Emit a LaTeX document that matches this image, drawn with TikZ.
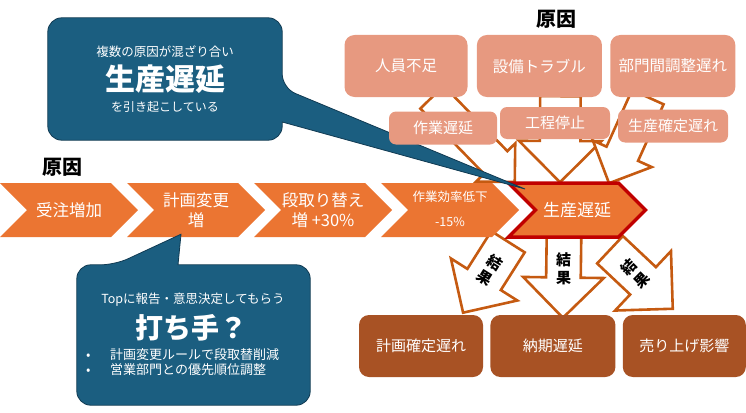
\documentclass[tikz,border=0pt]{standalone}
\usepackage{fontspec}
\setmainfont{Noto Sans CJK JP}
\usetikzlibrary{shapes.symbols,shapes.arrows,positioning,calc}

\definecolor{chevorange}{RGB}{235,117,50}
\definecolor{causepink}{RGB}{231,153,128}
\definecolor{arroworange}{RGB}{197,90,17}
\definecolor{resultbrown}{RGB}{168,82,36}
\definecolor{bubbleblue}{RGB}{27,94,128}
\definecolor{bubbleedge}{RGB}{16,58,82}
\definecolor{delayred}{RGB}{192,0,0}

\pgfdeclarelayer{background}
\pgfsetlayers{background,main}

% hollow block arrow from #1 to #2, shaft width #3, head extend #4
\newcommand{\fatlink}[4]{%
  \path let \p1=($(#2)-(#1)$), \n1={atan2(\y1,\x1)}, \n2={veclen(\x1,\y1)} in
    node[fatarrow, anchor=tail, rotate=\n1, minimum height=\n2, single arrow head extend=#4] at (#1) {\rule{0pt}{#3}};
}

\begin{document}
\begin{tikzpicture}[x=1pt, y=-1pt,
  chev/.style={signal, signal to=east, signal from=west, fill=chevorange, text=white, minimum width=138pt, minimum height=54pt, inner sep=0pt, align=center, font=\fontsize{16.5}{20}\selectfont},
  causebox/.style={rounded corners=10pt, fill=causepink, text=white, minimum width=123pt, minimum height=62pt, inner sep=0pt, font=\fontsize{15.5}{18}\selectfont},
  subbox/.style={rounded corners=7pt, fill=causepink, text=white, minimum width=110pt, minimum height=33pt, inner sep=0pt, font=\fontsize{15}{18}\selectfont},
  resbox/.style={rounded corners=10pt, fill=resultbrown, text=white, minimum width=124pt, minimum height=62pt, inner sep=0pt, font=\fontsize{15}{18}\selectfont},
  fatarrow/.style={single arrow, draw=arroworange, fill=white, line width=2.6pt, inner sep=0pt, outer sep=0pt},
  bubble/.style={fill=bubbleblue, draw=bubbleedge, line width=0.8pt},
  bubbletext/.style={text=white, inner sep=0pt},
  kekka/.style={align=center, inner sep=0pt, font=\bfseries\fontsize{15}{18}\selectfont},
  reason/.style={font=\bfseries\fontsize{20}{24}\selectfont}]
\useasboundingbox (0,0) rectangle (746,412);

% chevrons
\node[chev] (c1) at (69,210) {受注増加};
\node[chev] (c2) at (196,210) {計画変更\\増};
\node[chev] (c3) at (323,210) {段取り替え\\増 +30\%};
\node[chev, font=\fontsize{12.5}{21}\selectfont] (c4) at (450,210) {\raisebox{4pt}{\begin{tabular}{@{}c@{}}作業効率低下\\[4pt]-15\%\end{tabular}}};
\node[chev, draw=delayred, line width=3.5pt, minimum width=137pt, font=\fontsize{17}{20}\selectfont] (c5) at (577,210) {生産遅延};

\node[reason] (cause1) at (62,167) {原因};
\node[reason] (cause2) at (556,19) {原因};

% callout top left
\node[minimum width=234pt, minimum height=122pt] (cb1) at (165,79) {};
\coordinate (tp1) at ($(c5.center)+(-52,-21)$);
\draw[bubble] (cb1.north) [rounded corners=14pt] -- (cb1.north east) -- ($(cb1.east)+(0,9)$) [sharp corners] -- (tp1) -- ($(cb1.east)+(0,43)$) [rounded corners=14pt] -- (cb1.south east) -- (cb1.south west) -- (cb1.north west) -- cycle;
\node[bubbletext, font=\fontsize{12.5}{15}\selectfont] (cb1a) at (165,52) {複数の原因が混ざり合い};
\node[bubbletext, font=\bfseries\fontsize{30}{34}\selectfont] (cb1b) at (165,79) {生産遅延};
\node[bubbletext, font=\fontsize{12}{15}\selectfont] (cb1c) at (165,107) {を引き起こしている};

% callout bottom left
\node[minimum width=233pt, minimum height=140pt] (cb2) at (193.5,335) {};
\coordinate (tp2) at ($(c2.south)+(-15,-3)$);
\draw[bubble] (cb2.east) [rounded corners=14pt] -- (cb2.south east) -- (cb2.south west) -- (cb2.north west) -- ($(cb2.north)+(-78.5,0)$) [sharp corners] -- (tp2) -- ($(cb2.north)+(-15.5,0)$) [rounded corners=14pt] -- (cb2.north east) -- cycle;
\node[bubbletext, font=\fontsize{12.5}{15}\selectfont] (cb2a) at (193,300) {Topに報告・意思決定してもらう};
\node[bubbletext, font=\bfseries\fontsize{28}{32}\selectfont] (cb2b) at (191,328) {打ち手？};
\node[bubbletext, anchor=west, font=\fontsize{13}{16}\selectfont] (cb2c) at (86,355) {\makebox[24pt][l]{•}計画変更ルールで段取替削減};
\node[bubbletext, anchor=west, font=\fontsize{13}{16}\selectfont] (cb2d) at (86,370) {\makebox[24pt][l]{•}営業部門との優先順位調整};

% causes
\node[causebox] (b1) at (406,66) {人員不足};
\node[causebox, right=9pt of b1, minimum width=125pt] (b2) {設備トラブル};
\node[causebox, right=8pt of b2, minimum width=125pt] (b3) {部門間調整遅れ};
\node[subbox, minimum width=108pt] (m1) at (443,128) {作業遅延};
\node[subbox, minimum height=32pt] (m2) at (555,123) {工程停止};
\node[subbox] (m3) at (673,126) {生産確定遅れ};

% results
\node[resbox] (r1) at (421,346) {計画確定遅れ};
\node[resbox, right=7pt of r1, minimum width=125pt] (r2) {納期遅延};
\node[resbox, right=7pt of r2, minimum width=123pt] (r3) {売り上げ影響};

\begin{pgfonlayer}{background}
\coordinate (aT1) at ($(b1.south)+(26,0)$);
\coordinate (aH1) at ($(c5.north)+(-62,1)$);
\coordinate (aT2) at ($(b2.south)+(21,-1)$);
\coordinate (aH2) at ($(c5.north)+(-17,1)$);
\coordinate (aT3) at ($(b3.south)+(-25,0)$);
\coordinate (aH3) at ($(c5.north)+(32,2)$);
\fatlink{aT1}{aH1}{30pt}{11pt}
\fatlink{aT2}{aH2}{38pt}{21pt}
\fatlink{aT3}{aH3}{32pt}{15pt}

\coordinate (rT1) at ($(c5.south)+(-69,3)$);
\coordinate (rH1) at ($(r1.north)+(42,-2)$);
\coordinate (rT2) at ($(c5.south)+(-13,-3)$);
\coordinate (rH2) at ($(r2.north)+(10,3)$);
\coordinate (rT3) at ($(c5.south)+(33,11)$);
\coordinate (rH3) at ($(r3.north)+(-11.5,-6)$);
\fatlink{rT1}{rH1}{37pt}{19.5pt}
\fatlink{rT2}{rH2}{32pt}{23pt}
\fatlink{rT3}{rH3}{35pt}{22pt}
\end{pgfonlayer}

\node[kekka, rotate=-32] (k1) at ($(rT1)!0.4!(rH1)$) {結\\果};
\node[kekka] (k2) at ($(rT2)!0.4!(rH2)$) {結\\果};
\node[kekka, rotate=45] (k3) at ($(rT3)!0.4!(rH3)$) {結\\果};
\end{tikzpicture}
\end{document}
